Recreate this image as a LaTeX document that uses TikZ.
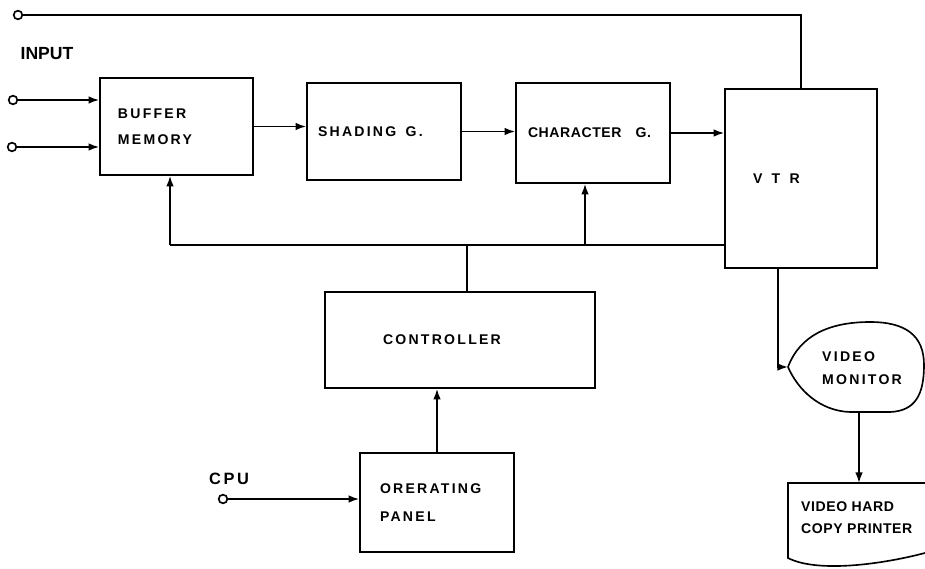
\documentclass[tikz,border=0pt]{standalone}
\usepackage{fontspec}
\setsansfont{Liberation Sans}
\newfontfamily\blkfont{Liberation Sans}[LetterSpace=16]
\newfontfamily\narrowfont{Liberation Sans}[LetterSpace=4]
\usetikzlibrary{arrows.meta}

\tikzset{
  blk/.style={draw, line width=1.4pt, inner ysep=0pt, align=left,
    font=\blkfont\bfseries\fontsize{12}{22}\selectfont},
  wire/.style={line width=1.4pt},
  arr/.style={wire, -{Latex[length=3.2mm,width=2.3mm]}},
  term/.style={circle, draw, line width=1.4pt, fill=white, inner sep=0pt, minimum size=2.6mm}
}

\begin{document}
\begin{tikzpicture}[x=0.03cm, y=-0.03cm]
  \useasboundingbox (0,0) rectangle (925,569);

  % blocks
  \node[blk, minimum width=4.59cm, minimum height=2.91cm, inner xsep=0.54cm, text width=3.51cm]
    (buffer) at (176.5,126.5) {BUFFER\\MEMORY};
  \node[blk, minimum width=4.62cm, minimum height=2.91cm, inner xsep=0.33cm, text width=3.96cm]
    (shading) at (384,131.5) {SHADING~~G.};
  \node[blk, minimum width=4.62cm, minimum height=3.0cm, inner xsep=0.36cm, text width=3.90cm,
    font=\narrowfont\bfseries\fontsize{12}{22}\selectfont]
    (character) at (593,133) {CHARACTER~~~G.};
  \node[blk, minimum width=4.56cm, minimum height=5.37cm, inner xsep=0.84cm, text width=2.88cm]
    (vtr) at (801,178.5) {V~~T~~R};
  \node[blk, minimum width=8.10cm, minimum height=2.88cm, inner xsep=1.74cm, text width=4.62cm]
    (controller) at (460,340) {CONTROLLER};
  \node[blk, minimum width=4.62cm, minimum height=2.97cm, inner xsep=0.60cm, text width=3.42cm,
    font=\blkfont\bfseries\fontsize{12}{24}\selectfont]
    (panel) at (437,502.5) {ORERATING\\PANEL};

  % labels
  \node[font=\sffamily\bfseries\fontsize{15}{17}\selectfont] (inlbl) at (47,54) {INPUT};
  \node[font=\blkfont\bfseries\fontsize{14}{16}\selectfont] (cpulbl) at (229,479) {CPU};

  % terminals
  \node[term] (top) at (18,15) {};
  \node[term] (in1) at (13,100) {};
  \node[term] (in2) at (12,147) {};
  \node[term] (cpu) at (223,499) {};

  % signal path
  \draw[arr] (in1) -- (in1 -| buffer.west);
  \draw[arr] (in2) -- (in2 -| buffer.west);
  \draw[arr] (buffer.east) -- (buffer.east -| shading.west);
  \draw[arr] (shading.east) -- (shading.east -| character.west);
  \draw[arr] (character.east) -- (character.east -| vtr.west);
  \draw[wire] (top) -- (top -| vtr.north) -- (vtr.north);

  % control bus
  \coordinate (tapB) at (170,245);
  \coordinate (tapK) at (467,245);
  \coordinate (tapC) at (585,245);
  \draw[wire] (tapB) -- (tapB -| vtr.west);
  \draw[arr] (tapB) -- (tapB |- buffer.south);
  \draw[arr] (tapC) -- (tapC |- character.south);
  \draw[wire] (tapK |- controller.north) -- (tapK);
  \draw[arr] (panel.north) -- (panel.north |- controller.south);
  \draw[arr] (cpu) -- (cpu -| panel.west);

  % video monitor
  \coordinate (montip) at (788,367);
  \coordinate (vtrout) at (778,268);
  \draw[wire] (montip) .. controls (800,335) and (830,322) .. (870,322)
    .. controls (905,322) and (924,335) .. (924,365)
    .. controls (924,395) and (915,411) .. (890,412) -- (850,412)
    .. controls (820,411) and (798,390) .. (montip);
  \node[anchor=west, align=left, inner sep=0pt,
    font=\blkfont\bfseries\fontsize{12}{20}\selectfont] (monitor) at (822,368) {VIDEO\\MONITOR};
  \draw[arr] (vtrout) |- (montip);

  % printer
  \coordinate (monbot) at (859,412);
  \coordinate (prntop) at (859,483);
  \draw[wire] (925,483) -- (788,483) -- (788,558)
    .. controls (815,572) and (875,566) .. (925,553);
  \node[anchor=west, align=left, inner sep=0pt,
    font=\narrowfont\bfseries\fontsize{12}{19}\selectfont] (printer) at (801,518) {VIDEO HARD\\COPY PRINTER};
  \draw[arr] (monbot) -- (prntop);
\end{tikzpicture}
\end{document}
